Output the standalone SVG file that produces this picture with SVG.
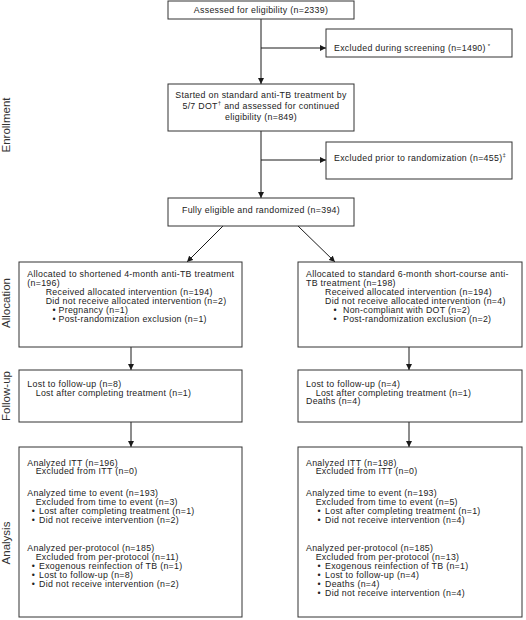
<svg xmlns="http://www.w3.org/2000/svg" width="526" height="620" viewBox="0 0 526 620">
<defs>
<marker id="ah" viewBox="0 0 10 10" refX="10" refY="5" markerWidth="6" markerHeight="6" markerUnits="userSpaceOnUse" orient="auto"><path d="M0,0 L10,5 L0,10 z" fill="#1a1a1a"/></marker>
<style>
.box{fill:#fff;stroke:#333;stroke-width:1}
.t{font-family:"Liberation Sans",Arial,sans-serif;font-size:8.8px;letter-spacing:0.3px;fill:#222}
.c{text-anchor:middle}
.side{font-family:"Liberation Sans",Arial,sans-serif;font-size:11.5px;fill:#333;text-anchor:middle}
.ln{stroke:#1a1a1a;stroke-width:1;fill:none;marker-end:url(#ah)}
.sup{font-size:6px}
</style>
</defs>
<rect width="526" height="620" fill="#fff"/>

<g id="labels">
<text class="side" transform="translate(10,125) rotate(-90)">Enrollment</text>
<text class="side" transform="translate(10,303) rotate(-90)">Allocation</text>
<text class="side" transform="translate(10,396) rotate(-90)">Follow-up</text>
<text class="side" transform="translate(10,543) rotate(-90)">Analysis</text>
</g>

<g id="connectors">
<line class="ln" x1="261" y1="19" x2="261" y2="84"/>
<line class="ln" x1="261" y1="48" x2="326" y2="48"/>
<line class="ln" x1="261" y1="131" x2="261" y2="198"/>
<line class="ln" x1="261" y1="160" x2="326" y2="160"/>
<line class="ln" x1="223" y1="226" x2="187" y2="262"/>
<line class="ln" x1="298" y1="226" x2="335" y2="262"/>
<line class="ln" x1="131" y1="347" x2="131" y2="370"/>
<line class="ln" x1="409" y1="347" x2="409" y2="370"/>
<line class="ln" x1="131" y1="422" x2="131" y2="447"/>
<line class="ln" x1="409" y1="422" x2="409" y2="447"/>
</g>

<g id="assessed">
<rect class="box" x="168" y="1" width="186" height="18"/>
<text class="t c" x="261" y="13.3">Assessed for eligibility (n=2339)</text>
</g>

<g id="excluded-screening">
<rect class="box" x="326" y="29" width="186" height="28"/>
<text class="t" x="334" y="51.3">Excluded during screening (n=1490)<tspan class="sup" dy="-3.5"> *</tspan></text>
</g>

<g id="started">
<rect class="box" x="168" y="84" width="186" height="47"/>
<text class="t c" x="261" y="97.5">Started on standard anti-TB treatment by</text>
<text class="t c" x="261" y="108.5">5/7 DOT<tspan class="sup" dy="-3.5">†</tspan><tspan dy="3.5"> and assessed for continued</tspan></text>
<text class="t c" x="261" y="119.5">eligibility (n=849)</text>
</g>

<g id="excluded-prior">
<rect class="box" x="326" y="142" width="186" height="37"/>
<text class="t" x="334" y="160.5">Excluded prior to randomization (n=455)<tspan class="sup" dy="-3.5">‡</tspan></text>
</g>

<g id="randomized">
<rect class="box" x="168" y="198" width="186" height="28"/>
<text class="t c" x="261" y="212.5">Fully eligible and randomized (n=394)</text>
</g>

<g id="alloc-left">
<rect class="box" x="19" y="262" width="223" height="85"/>
<text class="t" x="27.3" y="276.5">Allocated to shortened 4-month anti-TB treatment</text>
<text class="t" x="27.3" y="285.5">(n=196)</text>
<text class="t" x="45.7" y="294.5">Received allocated intervention (n=194)</text>
<text class="t" x="45.7" y="303.5">Did not receive allocated intervention (n=2)</text>
<text class="t" x="52.4" y="312.5">•</text><text class="t" x="58.5" y="312.5">Pregnancy (n=1)</text>
<text class="t" x="52.4" y="321.5">•</text><text class="t" x="58.5" y="321.5">Post-randomization exclusion (n=1)</text>
</g>

<g id="alloc-right">
<rect class="box" x="298" y="262" width="224" height="85"/>
<text class="t" x="306" y="276.5">Allocated to standard 6-month short-course anti-</text>
<text class="t" x="306" y="285.5">TB treatment (n=198)</text>
<text class="t" x="325" y="294.5">Received allocated intervention (n=194)</text>
<text class="t" x="325" y="303.5">Did not receive allocated intervention (n=4)</text>
<text class="t" x="333.4" y="312.5">•</text><text class="t" x="343" y="312.5">Non-compliant with DOT (n=2)</text>
<text class="t" x="333.4" y="321.5">•</text><text class="t" x="343" y="321.5">Post-randomization exclusion (n=2)</text>
</g>

<g id="followup-left">
<rect class="box" x="19" y="370" width="223" height="52"/>
<text class="t" x="27.3" y="387.2">Lost to follow-up (n=8)</text>
<text class="t" x="35.7" y="395.8">Lost after completing treatment (n=1)</text>
</g>

<g id="followup-right">
<rect class="box" x="298" y="370" width="224" height="52"/>
<text class="t" x="306" y="387.2">Lost to follow-up (n=4)</text>
<text class="t" x="315.7" y="395.8">Lost after completing treatment (n=1)</text>
<text class="t" x="306" y="404.4">Deaths (n=4)</text>
</g>

<g id="analysis-left">
<rect class="box" x="19" y="447" width="223" height="170"/>
<text class="t" x="27.3" y="465.5">Analyzed ITT (n=196)</text>
<text class="t" x="35.7" y="474">Excluded from ITT (n=0)</text>
<text class="t" x="27.3" y="495.5">Analyzed time to event (n=193)</text>
<text class="t" x="35.7" y="504.5">Excluded from time to event (n=3)</text>
<text class="t" x="31.7" y="513.5">•</text><text class="t" x="39" y="513.5">Lost after completing treatment (n=1)</text>
<text class="t" x="31.7" y="522.5">•</text><text class="t" x="39" y="522.5">Did not receive intervention (n=2)</text>
<text class="t" x="27.3" y="550.5">Analyzed per-protocol (n=185)</text>
<text class="t" x="35.7" y="559.5">Excluded from per-protocol (n=11)</text>
<text class="t" x="31.7" y="568.5">•</text><text class="t" x="39" y="568.5">Exogenous reinfection of TB (n=1)</text>
<text class="t" x="31.7" y="577.5">•</text><text class="t" x="39" y="577.5">Lost to follow-up (n=8)</text>
<text class="t" x="31.7" y="586.5">•</text><text class="t" x="39" y="586.5">Did not receive intervention (n=2)</text>
</g>

<g id="analysis-right">
<rect class="box" x="298" y="447" width="224" height="170"/>
<text class="t" x="306" y="465.5">Analyzed ITT (n=198)</text>
<text class="t" x="315.7" y="474">Excluded from ITT (n=0)</text>
<text class="t" x="306" y="495.5">Analyzed time to event (n=193)</text>
<text class="t" x="315.7" y="504.5">Excluded from time to event (n=5)</text>
<text class="t" x="317.4" y="513.5">•</text><text class="t" x="325" y="513.5">Lost after completing treatment (n=1)</text>
<text class="t" x="317.4" y="522.5">•</text><text class="t" x="325" y="522.5">Did not receive intervention (n=4)</text>
<text class="t" x="306" y="550.5">Analyzed per-protocol (n=185)</text>
<text class="t" x="315.7" y="559.5">Excluded from per-protocol (n=13)</text>
<text class="t" x="317.4" y="568.5">•</text><text class="t" x="325" y="568.5">Exogenous reinfection of TB (n=1)</text>
<text class="t" x="317.4" y="577.5">•</text><text class="t" x="325" y="577.5">Lost to follow-up (n=4)</text>
<text class="t" x="317.4" y="586.5">•</text><text class="t" x="325" y="586.5">Deaths (n=4)</text>
<text class="t" x="317.4" y="595.5">•</text><text class="t" x="325" y="595.5">Did not receive intervention (n=4)</text>
</g>
</svg>
